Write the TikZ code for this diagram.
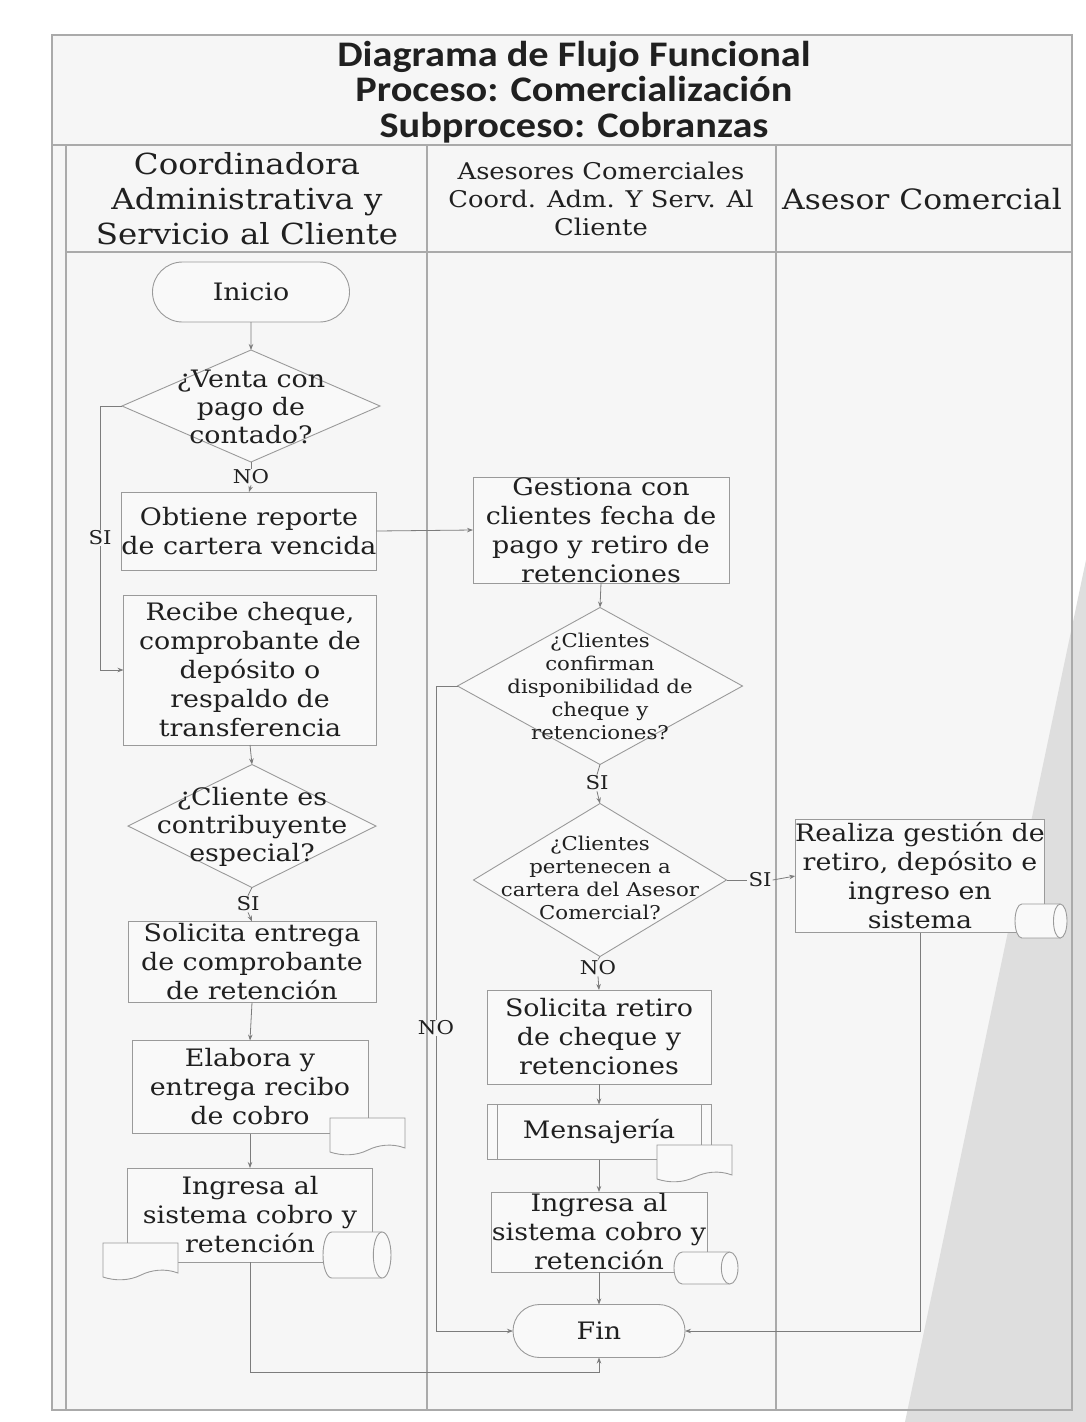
\documentclass[tikz,border=0pt]{standalone}
\usepackage{fontspec}
\setmainfont[FakeStretch=1.12]{DejaVu Serif}
\newfontfamily\titlefont[FakeStretch=1.12]{Carlito}
\usetikzlibrary{shapes.geometric,shapes.misc,arrows.meta}
\definecolor{txt}{HTML}{202020}
\definecolor{boxc}{HTML}{9A9A9A}
\definecolor{linec}{HTML}{7C7C7C}
\definecolor{framec}{HTML}{AAAAAA}
\definecolor{bgc}{HTML}{F6F6F6}
\definecolor{boxfill}{HTML}{F9F9F9}
\definecolor{wedgec}{HTML}{DEDEDE}
\newcommand{\hcyl}[4]{%
  \pgfmathsetmacro{\cxa}{#1-#3/2}\pgfmathsetmacro{\cxb}{#1+#3/2}%
  \pgfmathsetmacro{\cya}{#2-#4/2}\pgfmathsetmacro{\cyb}{#2+#4/2}%
  \pgfmathsetmacro{\cyrad}{0.13*#3}\pgfmathsetmacro{\cyhh}{#4/2}%
  \fill[boxfill] (\cxa+\cyrad,\cya) rectangle (\cxb-\cyrad,\cyb);
  \fill[boxfill] (\cxa+\cyrad,\cyb) arc[start angle=90,end angle=270,x radius=\cyrad,y radius=\cyhh] -- cycle;
  \draw[draw=boxc, line width=0.9pt] (\cxb-\cyrad,\cya) -- (\cxa+\cyrad,\cya)
     arc[start angle=270,end angle=90,x radius=\cyrad,y radius=\cyhh] -- (\cxb-\cyrad,\cyb);
  \draw[draw=boxc, fill=boxfill, line width=0.9pt] (\cxb-\cyrad,#2) ellipse[x radius=\cyrad, y radius=\cyhh];
}
\begin{document}
\begin{tikzpicture}[x=1pt,y=-1pt,
  every node/.style={text=txt},
  proc/.style={draw=boxc, fill=boxfill, line width=0.9pt, inner sep=0pt, outer sep=0pt, align=center, font=\fontsize{24}{29}\selectfont},
  term/.style={rounded rectangle, draw=boxc, fill=boxfill, line width=0.9pt, inner sep=0pt, outer sep=0pt, font=\fontsize{24}{29}\selectfont},
  dia/.style={diamond, draw=boxc, fill=boxfill, line width=0.9pt, inner sep=0pt, outer sep=0pt},
  dtext/.style={align=center, inner sep=0pt, font=\fontsize{24}{28}\selectfont},
  dtexts/.style={align=center, inner sep=0pt, font=\fontsize{19}{23}\selectfont},
  lab/.style={inner sep=1pt, font=\fontsize{19}{22}\selectfont},
  conn/.style={draw=linec, line width=0.8pt, -{Stealth[length=6pt,width=4.5pt]}},
  seg/.style={draw=linec, line width=0.8pt},
  framel/.style={draw=framec, line width=1.4pt},
  hdr/.style={align=center, inner sep=0pt},
  docpic/.pic={\draw[draw=boxc, fill=boxfill, line width=0.9pt] (0,0) -- (75,0) -- (75,30) .. controls (62,25) and (48,27) .. (38,32) .. controls (26,38) and (12,38) .. (0,34) -- cycle;}
]
% background
\fill[white] (0,0) rectangle (1086,1422);
\fill[bgc] (52,35) rectangle (1072,1410);
\fill[wedgec] (1086,560) -- (1086,1422) -- (905,1422) -- cycle;
% frame and lanes
\draw[framel] (52,35) rectangle (1072,1410);
\draw[framel] (52,145) -- (1072,145);
\draw[framel] (66,145) -- (66,1410);
\draw[framel] (66,252) -- (1072,252);
\draw[framel] (427,145) -- (427,1410);
\draw[framel] (776,145) -- (776,1410);
% title
\node[hdr, font=\titlefont\bfseries\fontsize{36}{35.5}\selectfont] (title) at (574,92)
  {Diagrama de Flujo Funcional\\Proceso: Comercializaci\'on\\Subproceso: Cobranzas};
% lane headers
\node[hdr, font=\fontsize{29}{35}\selectfont] (h1) at (247,199) {Coordinadora\\Administrativa y\\Servicio al Cliente};
\node[hdr, font=\fontsize{23}{28}\selectfont] (h2) at (601,199) {Asesores Comerciales\\Coord. Adm. Y Serv. Al\\Cliente};
\node[hdr, font=\fontsize{28}{34}\selectfont] (h3) at (922,199) {Asesor Comercial};

% lane 1
\node[term, minimum width=197pt, minimum height=60pt] (ini) at (251,292) {Inicio};
\node[dia, minimum width=258pt, minimum height=112pt] (d1) at (251,406) {};
\node[dtext] (d1t) at (251,407) {¿Venta con\\pago de\\contado?};
\node[lab] (no1) at (251,477) {NO};
\node[proc, minimum width=255pt, minimum height=78pt] (obt) at (249,531) {Obtiene reporte\\de cartera vencida};
\node[lab] (si1) at (100,538) {SI};
\node[proc, minimum width=253pt, minimum height=150pt] (rec) at (250,670) {Recibe cheque,\\comprobante de\\dep\'osito o\\respaldo de\\transferencia};
\node[dia, minimum width=248pt, minimum height=123pt] (d2) at (252,826) {};
\node[dtext] (d2t) at (252,827) {¿Cliente es\\contribuyente\\especial?};
\node[lab] (si2) at (248,904) {SI};
\node[proc, minimum width=248pt, minimum height=81pt] (sol) at (252,962) {Solicita entrega\\de comprobante\\de retenci\'on};
\node[proc, minimum width=236pt, minimum height=93pt] (ela) at (250,1087) {Elabora y\\entrega recibo\\de cobro};
\pic at (330,1118) {docpic};
\node[proc, minimum width=245pt, minimum height=94pt] (ing1) at (250,1215) {Ingresa al\\sistema cobro y\\retenci\'on};
\pic at (103,1243) {docpic};
\hcyl{357}{1255}{68}{46}

% lane 2
\node[proc, minimum width=256pt, minimum height=106pt] (ges) at (601,530) {Gestiona con\\clientes fecha de\\pago y retiro de\\retenciones};
\node[dia, minimum width=285pt, minimum height=157pt] (d3) at (600,686) {};
\node[dtexts] (d3t) at (600,686) {¿Clientes\\confirman\\disponibilidad de\\cheque y\\retenciones?};
\node[lab] (si3) at (597,783) {SI};
\node[dia, minimum width=253pt, minimum height=153pt] (d4) at (600,880) {};
\node[dtexts] (d4t) at (600,878) {¿Clientes\\pertenecen a\\cartera del Asesor\\Comercial?};
\node[lab] (si4) at (760,880) {SI};
\node[lab] (no4) at (598,968) {NO};
\node[proc, minimum width=224pt, minimum height=94pt] (solr) at (599,1037) {Solicita retiro\\de cheque y\\retenciones};
\node[proc, minimum width=224pt, minimum height=55pt] (mens) at (599,1132) {Mensajer\'ia};
\draw[draw=boxc, line width=0.9pt] ([xshift=10pt]mens.north west) -- ([xshift=10pt]mens.south west);
\draw[draw=boxc, line width=0.9pt] ([xshift=-10pt]mens.north east) -- ([xshift=-10pt]mens.south east);
\pic at (657,1145) {docpic};
\node[proc, minimum width=216pt, minimum height=80pt] (ing2) at (599,1232) {Ingresa al\\sistema cobro y\\retenci\'on};
\hcyl{706}{1268}{64}{32}
\node[term, minimum width=172pt, minimum height=53pt] (fin) at (599,1331) {Fin};
\node[lab] (no3) at (436,1028) {NO};

% lane 3
\node[proc, minimum width=249pt, minimum height=113pt] (rea) at (920,876) {Realiza gesti\'on de\\retiro, dep\'osito e\\ingreso en\\sistema};
\hcyl{1041}{921}{52}{34}

% connectors
\draw[conn] (ini) -- (d1);
\draw[seg] (d1.south) -- (no1.north);
\draw[conn] (no1.south) -- (obt.north);
\draw[seg] (d1.west) -| (si1.north);
\draw[conn] (si1.south) |- (rec.west);
\draw[conn] (obt.east) -- (ges.west);
\draw[conn] (rec.south) -- (d2.north);
\draw[seg] (d2.south) -- (si2.north);
\draw[conn] (si2.south) -- (sol.north);
\draw[conn] (sol.south) -- (ela.north);
\draw[conn] (ela.south) -- (ing1.north);
\draw[conn] (ing1.south) -- ++(0,110) -| (fin.south);
\draw[conn] (ges.south) -- (d3.north);
\draw[seg] (d3.south) -- (si3.north);
\draw[conn] (si3.south) -- (d4.north);
\draw[seg] (d4.east) -- (si4.west);
\draw[conn] (si4.east) -- (rea.west);
\draw[seg] (d4.south) -- (no4.north);
\draw[conn] (no4.south) -- (solr.north);
\draw[conn] (solr.south) -- (mens.north);
\draw[conn] (mens.south) -- (ing2.north);
\draw[conn] (ing2.south) -- (fin.north);
\draw[seg] (d3.west) -| (no3.north);
\draw[conn] (no3.south) |- (fin.west);
\draw[conn] (rea.south) |- (fin.east);
\end{tikzpicture}
\end{document}
